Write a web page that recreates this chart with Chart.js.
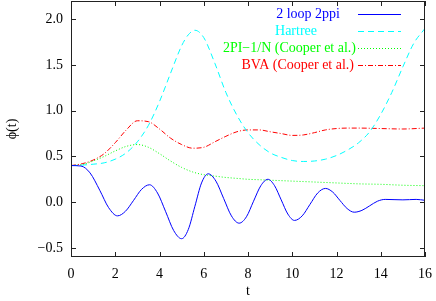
<!DOCTYPE html>
<html>
<head>
<meta charset="utf-8">
<script src="https://cdn.jsdelivr.net/npm/chart.js@4"></script>
<style>
  html, body { margin: 0; padding: 0; background: #fff; }
  #wrap { width: 436px; height: 301px; }
</style>
</head>
<body>
<div id="wrap"><canvas id="phiChart" width="436" height="301"></canvas></div>
<script>
// valores: phi(t)
const tLoop = [0, 0.45, 0.86, 1.3, 1.7, 2.1, 2.46, 2.83, 3.19, 3.55, 3.91, 4.28, 4.64, 5.0, 5.3, 5.6, 5.9, 6.2, 6.55, 6.9, 7.25, 7.6, 7.93, 8.25, 8.58, 8.9, 9.2, 9.5, 9.8, 10.1, 10.45, 10.8, 11.15, 11.5, 11.83, 12.15, 12.48, 12.8, 13.15, 13.5, 13.85, 14.2, 15.0, 15.6, 16];
const loop2ppi = [0.4, 0.395, 0.32, 0.13, -0.06, -0.15, -0.10, 0.02, 0.14, 0.19, 0.10, -0.105, -0.31, -0.4, -0.30, -0.045, 0.21, 0.31, 0.23, 0.04, -0.15, -0.23, -0.16, 0.01, 0.18, 0.25, 0.18, 0.025, -0.13, -0.2, -0.15, -0.025, 0.10, 0.15, 0.11, 0.02, -0.07, -0.11, -0.09, -0.04, 0.01, 0.03, 0.025, 0.03, 0.02];

const tHartree = [0, 0.5, 1, 1.5, 2, 2.5, 3, 3.5, 4, 4.5, 5, 5.3, 5.6, 6, 6.5, 7, 7.5, 8, 8.5, 9, 9.5, 10, 10.5, 11, 11.5, 12, 12.5, 13, 13.5, 14, 14.5, 15, 15.5, 16];
const hartree = [0.4, 0.405, 0.415, 0.43, 0.47, 0.54, 0.66, 0.84, 1.1, 1.41, 1.71, 1.83, 1.88, 1.8, 1.52, 1.2, 0.95, 0.76, 0.63, 0.54, 0.49, 0.455, 0.445, 0.45, 0.47, 0.51, 0.57, 0.65, 0.77, 0.96, 1.2, 1.48, 1.74, 1.9];

const tCooper = [0, 0.5, 1, 1.5, 2, 2.5, 3, 3.5, 4, 4.5, 5, 5.5, 6, 6.5, 7, 7.5, 8, 8.5, 9, 9.5, 10, 10.5, 11, 11.5, 12, 12.5, 13, 14, 15, 16];
const pi2N = [0.4, 0.41, 0.45, 0.5, 0.56, 0.61, 0.63, 0.6, 0.53, 0.45, 0.38, 0.33, 0.3, 0.285, 0.27, 0.26, 0.25, 0.245, 0.24, 0.235, 0.23, 0.225, 0.22, 0.215, 0.21, 0.205, 0.2, 0.195, 0.185, 0.18];
const bva = [0.4, 0.42, 0.46, 0.53, 0.65, 0.79, 0.89, 0.88, 0.8, 0.7, 0.63, 0.59, 0.6, 0.66, 0.72, 0.77, 0.79, 0.79, 0.77, 0.75, 0.73, 0.735, 0.76, 0.79, 0.805, 0.81, 0.81, 0.805, 0.8, 0.81];

const xTicks = [0, 2, 4, 6, 8, 10, 12, 14, 16];
const yTicks = [-0.5, 0, 0.5, 1.0, 1.5, 2.0];

const serif = '"Liberation Serif", "Times New Roman", "DejaVu Serif", serif';

function pts(xs, ys) { return xs.map((x, i) => ({ x: x, y: ys[i] })); }

// marco y ticks hacia adentro, estilo gnuplot
const marco = {
    id: 'marco',
    afterDraw(chart) {
        const ctx = chart.ctx, a = chart.chartArea;
        const sx = chart.scales.x, sy = chart.scales.y;
        ctx.save();
        ctx.strokeStyle = '#222';
        ctx.lineWidth = 1;
        ctx.setLineDash([]);
        ctx.strokeRect(a.left + 0.5, a.top + 0.5, a.right - a.left - 1, a.bottom - a.top - 1);
        ctx.beginPath();
        xTicks.forEach(v => {
            const px = Math.round(sx.getPixelForValue(v)) + 0.5;
            ctx.moveTo(px, a.bottom); ctx.lineTo(px, a.bottom - 5);
            ctx.moveTo(px, a.top); ctx.lineTo(px, a.top + 5);
        });
        yTicks.forEach(v => {
            const py = Math.round(sy.getPixelForValue(v)) + 0.5;
            ctx.moveTo(a.left, py); ctx.lineTo(a.left + 5, py);
            ctx.moveTo(a.right, py); ctx.lineTo(a.right - 5, py);
        });
        ctx.stroke();
        ctx.restore();
    }
};

// leyenda: texto alineado a la derecha, muestra de linea despues
// (gnuplot estima el ancho del texto, por eso cada fila termina en otro x)
const finTexto = [340, 317, 356, 354];
const leyenda = {
    id: 'leyenda',
    afterDraw(chart) {
        const ctx = chart.ctx;
        ctx.save();
        ctx.font = '14px ' + serif;
        ctx.textAlign = 'right';
        ctx.textBaseline = 'middle';
        chart.data.datasets.forEach((ds, i) => {
            const y = 14 + i * 17;
            ctx.fillStyle = ds.borderColor;
            ctx.fillText(ds.label, finTexto[i], y);
            ctx.strokeStyle = ds.borderColor;
            ctx.lineWidth = 1;
            ctx.setLineDash(ds.borderDash || []);
            ctx.beginPath();
            ctx.moveTo(358, y + 0.5);
            ctx.lineTo(401, y + 0.5);
            ctx.stroke();
        });
        ctx.restore();
    }
};

new Chart(document.getElementById('phiChart'), {
    type: 'line',
    data: {
        datasets: [{
            label: '2 loop 2ppi',
            data: pts(tLoop, loop2ppi),
            borderColor: '#0000ff',
            borderWidth: 1
        }, {
            label: 'Hartree',
            data: pts(tHartree, hartree),
            borderColor: '#00ffff',
            borderDash: [6, 4],
            borderWidth: 1
        }, {
            label: '2PI\u22121/N (Cooper et al.)',
            data: pts(tCooper, pi2N),
            borderColor: '#00ff00',
            borderDash: [1, 2],
            borderWidth: 1
        }, {
            label: 'BVA (Cooper et al.)',
            data: pts(tCooper, bva),
            borderColor: '#ff0000',
            borderDash: [5, 2, 1, 2],
            borderWidth: 1
        }]
    },
    options: {
        responsive: false,
        animation: false,
        layout: { padding: { top: 1, right: 11, left: 0, bottom: 0 } },
        elements: {
            point: { radius: 0 },
            line: { cubicInterpolationMode: 'monotone', fill: false }
        },
        plugins: {
            legend: { display: false },
            tooltip: { enabled: false }
        },
        scales: {
            x: {
                type: 'linear',
                min: 0, max: 16,
                afterFit(s) { s.height = 44; s.paddingLeft = 0; s.paddingRight = 0; },
                afterBuildTicks(s) { s.ticks = xTicks.map(v => ({ value: v })); },
                grid: { display: false, drawTicks: false },
                border: { display: false },
                ticks: { color: '#000', font: { family: serif, size: 14 }, padding: 9, maxRotation: 0 },
                title: { display: true, text: 't', color: '#000', font: { family: serif, size: 14 }, padding: { top: 2, bottom: 1 } }
            },
            y: {
                min: -0.6, max: 2.2,
                afterFit(s) { s.width = 71; s.paddingTop = 0; s.paddingBottom = 0; },
                afterBuildTicks(s) { s.ticks = yTicks.map(v => ({ value: v })); },
                grid: { display: false, drawTicks: false },
                border: { display: false },
                ticks: {
                    color: '#000', font: { family: serif, size: 14 }, padding: 8,
                    callback: v => (v < 0 ? '\u2212' : '') + Math.abs(v).toFixed(1)
                },
                title: { display: true, text: '\u03d5(t)', color: '#000', font: { family: serif, size: 14 }, padding: { top: 4, bottom: 0 } }
            }
        }
    },
    plugins: [marco, leyenda]
});
</script>
</body>
</html>
